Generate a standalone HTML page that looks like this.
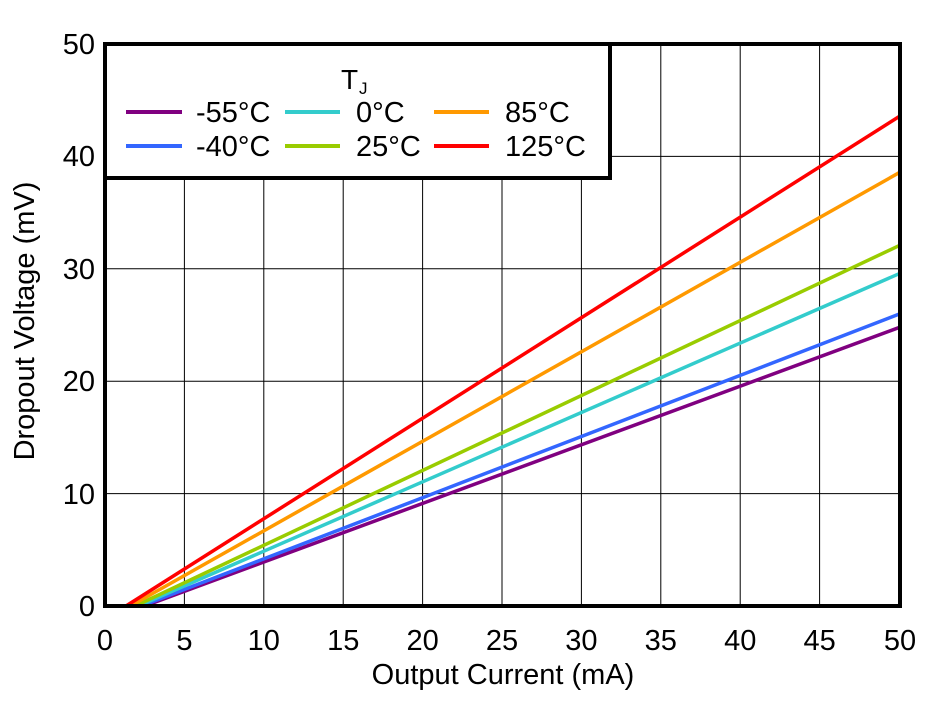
<!DOCTYPE html>
<html><head><style>body{margin:0;background:#fff}svg{display:block}text{font-family:"Liberation Sans",Arial,sans-serif;fill:#000}</style></head>
<body>
<svg width="940" height="701" viewBox="0 0 940 701" xmlns="http://www.w3.org/2000/svg">
<g stroke="#000" stroke-width="1">
<line x1="184.4" y1="44" x2="184.4" y2="606"/><line x1="263.8" y1="44" x2="263.8" y2="606"/><line x1="343.2" y1="44" x2="343.2" y2="606"/><line x1="422.6" y1="44" x2="422.6" y2="606"/><line x1="502" y1="44" x2="502" y2="606"/><line x1="581.4" y1="44" x2="581.4" y2="606"/><line x1="660.8" y1="44" x2="660.8" y2="606"/><line x1="740.2" y1="44" x2="740.2" y2="606"/><line x1="819.6" y1="44" x2="819.6" y2="606"/>
<line x1="105" y1="156.4" x2="900" y2="156.4"/><line x1="105" y1="268.8" x2="900" y2="268.8"/><line x1="105" y1="381.2" x2="900" y2="381.2"/><line x1="105" y1="493.6" x2="900" y2="493.6"/>
</g>
<g stroke-width="3.5" fill="none">
<line x1="144.7" y1="606" x2="900" y2="327.2" stroke="#800080"/>
<line x1="141.5" y1="606" x2="900" y2="313.8" stroke="#3366ff"/>
<line x1="138.4" y1="606" x2="900" y2="273.3" stroke="#33cccc"/>
<line x1="135.2" y1="606" x2="900" y2="245.2" stroke="#99cc00"/>
<line x1="130.4" y1="606" x2="900" y2="172.2" stroke="#ff9900"/>
<line x1="126" y1="606" x2="900" y2="116" stroke="#ff0000"/>
</g>
<rect x="105" y="44" width="795" height="562" fill="none" stroke="#000" stroke-width="4"/>
<rect x="105" y="44" width="505" height="134" fill="#fff" stroke="#000" stroke-width="4"/>
<text x="341" y="89" font-size="28">T</text><text x="359" y="94" font-size="17">J</text>
<g stroke-width="4">
<line x1="126" y1="112" x2="182" y2="112" stroke="#800080"/>
<line x1="126" y1="146" x2="182" y2="146" stroke="#3366ff"/>
<line x1="285" y1="112" x2="340" y2="112" stroke="#33cccc"/>
<line x1="285" y1="146" x2="340" y2="146" stroke="#99cc00"/>
<line x1="434" y1="112" x2="489" y2="112" stroke="#ff9900"/>
<line x1="434" y1="146" x2="489" y2="146" stroke="#ff0000"/>
</g>
<g font-size="29">
<text x="196" y="122">-55°C</text><text x="196" y="156">-40°C</text>
<text x="356" y="122">0°C</text><text x="356" y="156">25°C</text>
<text x="505" y="122">85°C</text><text x="505" y="156">125°C</text>
</g>
<g font-size="29" text-anchor="end">
<text x="95" y="616">0</text><text x="95" y="504">10</text><text x="95" y="391">20</text><text x="95" y="279">30</text><text x="95" y="166">40</text><text x="95" y="54">50</text>
</g>
<g font-size="29" text-anchor="middle">
<text x="105" y="650">0</text><text x="184.4" y="650">5</text><text x="263.8" y="650">10</text><text x="343.2" y="650">15</text><text x="422.6" y="650">20</text><text x="502" y="650">25</text><text x="581.4" y="650">30</text><text x="660.8" y="650">35</text><text x="740.2" y="650">40</text><text x="819.6" y="650">45</text><text x="900" y="650">50</text>
<text x="503" y="684">Output Current (mA)</text>
<text transform="translate(34,321) rotate(-90)">Dropout Voltage (mV)</text>
</g>
</svg>
</body></html>
